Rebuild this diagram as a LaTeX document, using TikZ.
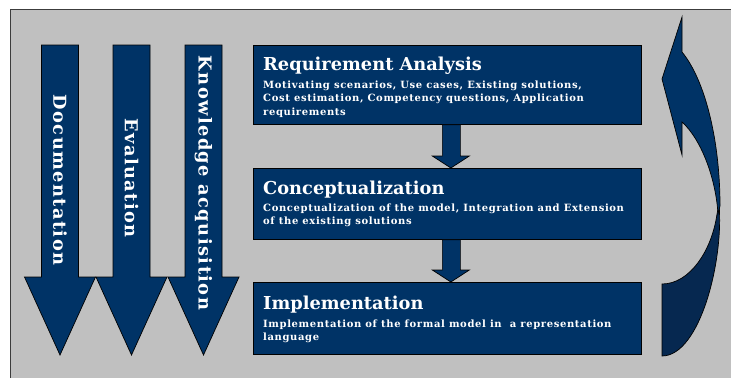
\documentclass[tikz,border=0pt]{standalone}
\usepackage{fontspec}
\setmainfont{DejaVu Serif}
\usetikzlibrary{calc}
\definecolor{panelgray}{RGB}{192,192,192}
\definecolor{navy}{RGB}{0,51,102}
\definecolor{navydark}{RGB}{6,40,80}
\definecolor{rimgray}{RGB}{60,60,60}
\begin{document}
\begin{tikzpicture}[x=1pt,y=-1pt,
  shapefill/.style={fill=navy, draw=black, line width=0.7pt, line join=miter},
  stagebox/.style={shapefill, rectangle, inner sep=0pt, anchor=north west,
    minimum width=388pt, minimum height=78pt},
  title/.style={text=white, font=\bfseries\fontsize{17.8}{20}\selectfont, anchor=base west, inner sep=0pt},
  body/.style={text=white, font=\bfseries\fontsize{10}{13.5}\selectfont\addfontfeature{LetterSpace=6.2},
    anchor=north west, inner sep=0pt, align=left},
  phase/.style={text=white, font=\bfseries\fontsize{17.8}{20}\selectfont\addfontfeature{LetterSpace=8},
    rotate=-90, inner sep=0pt}]
\useasboundingbox (0,0) rectangle (731,378);
% background panel
\fill[white] (0,0) rectangle (731,378);
\fill[panelgray] (10,9) rectangle (731,378);
\draw[rimgray, line width=0.8pt] (10,378) -- (10,9) -- (731,9);

% continuous activities: three downward arrows
\foreach \cx/\nm in {60/doc,131.5/eval,203.5/know}{
  \draw[shapefill] (\cx-18.5,45) -- (\cx+18.5,45) -- (\cx+18.5,277) -- (\cx+35.5,277)
    -- (\cx,355) -- (\cx-35.5,277) -- (\cx-18.5,277) -- cycle;
  \coordinate (\nm) at (\cx,180);
}
\node[phase] (doclbl) at (doc) {Documentation};
\node[phase] (evallbl) at ($(eval)+(0,-2)$) {Evaluation};
\node[phase] (knowlbl) at ($(know)+(0,3)$) {Knowledge acquisition};

% stages
\node[stagebox, minimum height=79pt] (req) at (253,45) {};
\node[stagebox, minimum height=71pt] (con) at (253,168) {};
\node[stagebox, minimum height=72pt] (imp) at (253,282) {};

\node[title] (reqtitle) at (263,70) {Requirement Analysis};
\node[body] (reqbody) at (263,80.5) {Motivating scenarios, Use cases, Existing solutions,\\Cost estimation, Competency questions, Application\\requirements};
\node[title] (contitle) at (263,194) {Conceptualization};
\node[body] (conbody) at (263,203.5) {Conceptualization of the model, Integration and Extension\\of the existing solutions};
\node[title] (imptitle) at (263,309) {Implementation};
\node[body] (impbody) at (263,319.5) {Implementation of the formal model in\ \ a representation\\language};

% arrows between stages
\foreach \a/\b in {req/con,con/imp}{
  \draw[shapefill] ($(\a.south)+(-5,0)$) -- ($(\a.south)+(13,0)$) -- ($(\b.north)+(13,-12)$)
    -- ($(\b.north)+(22,-12)$) -- ($(\b.north)+(3.5,0)$) -- ($(\b.north)+(-15,-12)$)
    -- ($(\b.north)+(-5,-12)$) -- cycle;
}

% iteration arrow on the right
\draw[shapefill, fill=navydark] (719,204) .. controls (724,260) and (700,356) .. (662,356)
  -- (662,284) .. controls (690,284) and (712,250) .. (717,214) -- cycle;
\draw[shapefill] (682,17) -- (662,79) -- (682,155) -- (682,122)
  .. controls (702,140) and (716,180) .. (718,214)
  -- (720,206) .. controls (720,140) and (705,80) .. (682,52) -- cycle;
\end{tikzpicture}
\end{document}
